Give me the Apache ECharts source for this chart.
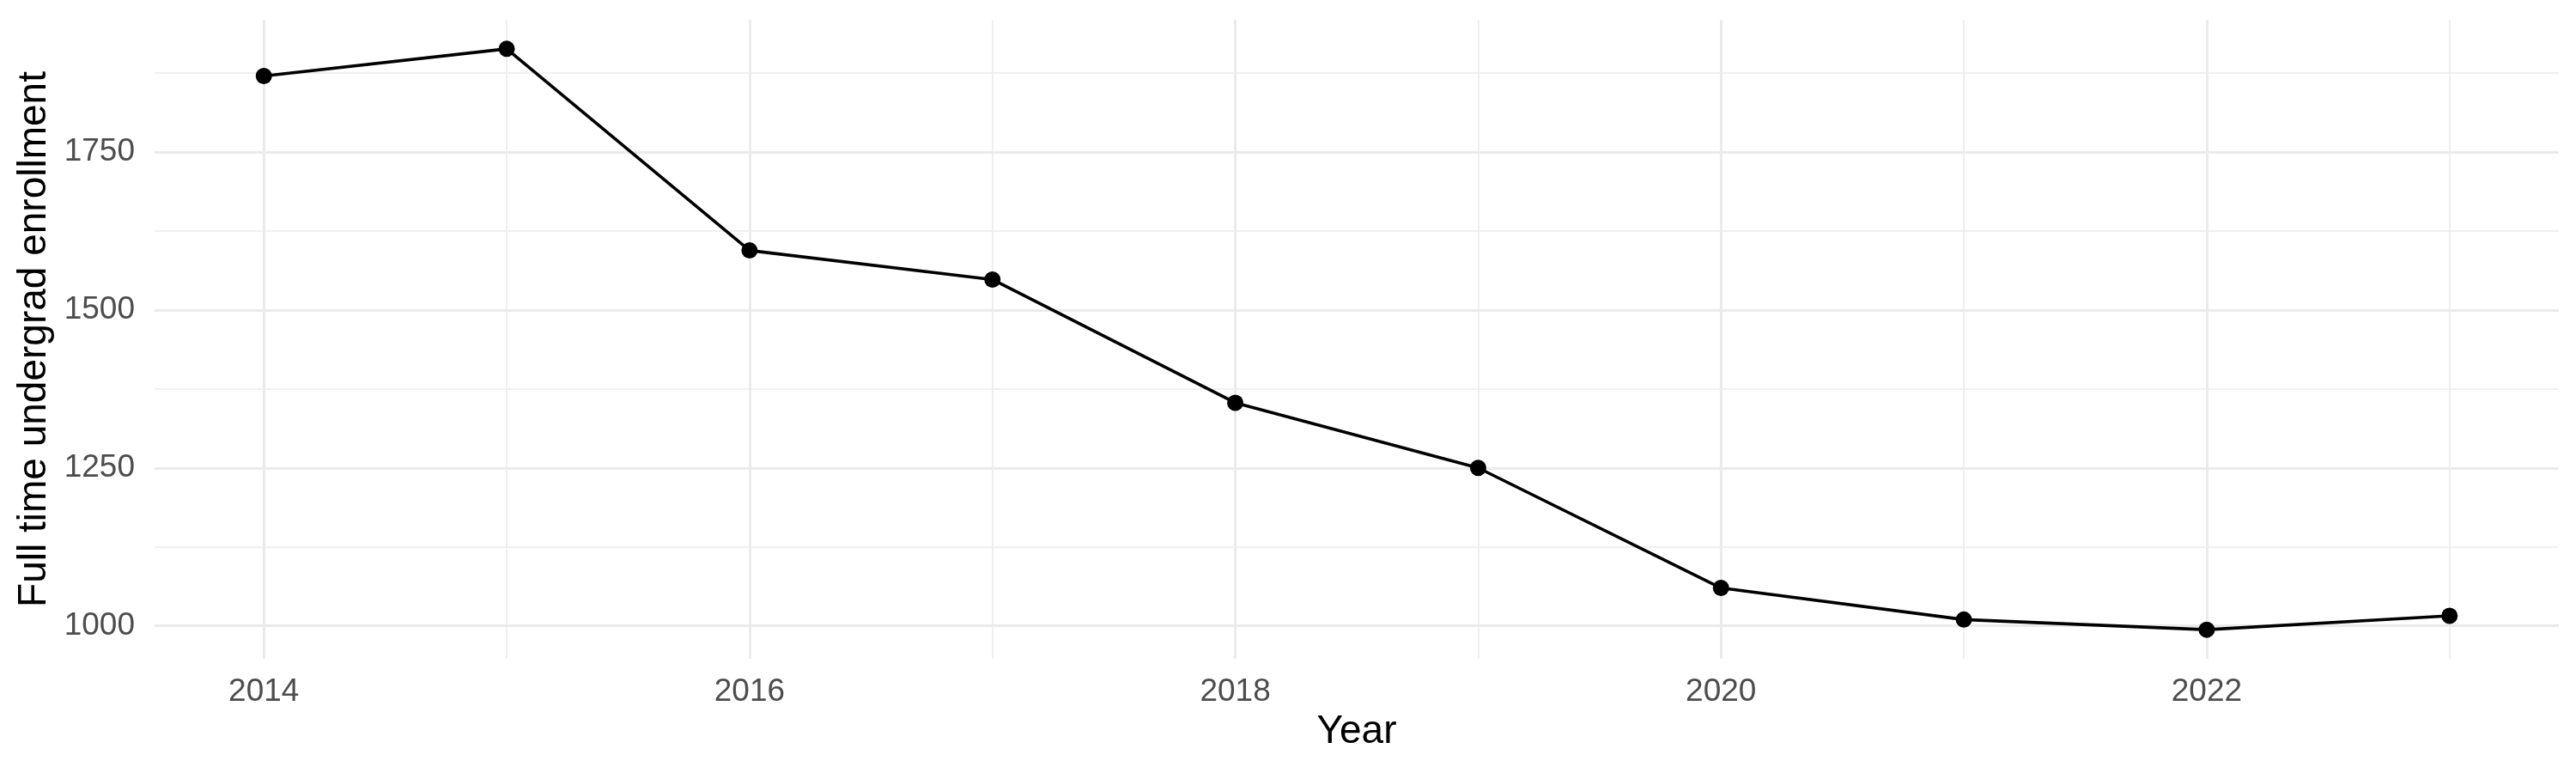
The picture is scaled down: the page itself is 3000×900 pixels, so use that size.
<!DOCTYPE html>
<html>
<head>
<meta charset="utf-8">
<script src="https://cdn.jsdelivr.net/npm/echarts@6/dist/echarts.min.js"></script>
<style>
html,body{margin:0;padding:0;background:#fff;}
#chart{width:3000px;height:900px;}
</style>
</head>
<body>
<div id="chart"></div>
<script>
const years = [2014, 2015, 2016, 2017, 2018, 2019, 2020, 2021, 2022, 2023];
const enrollment = [1870, 1913, 1594, 1548, 1353, 1250, 1060, 1010, 994, 1016];
const xMajorTicks = [2014, 2016, 2018, 2020, 2022];
const xMinorTicks = [2015, 2017, 2019, 2021, 2023];
const yMajorTicks = [1000, 1250, 1500, 1750];
const yMinorTicks = [1125, 1375, 1625, 1875];

const FONT = '"Liberation Sans", Arial, Helvetica, sans-serif';
const xMin = 2013.55, xMax = 2023.45;
const yMin = 948, yMax = 1959;

const chart = echarts.init(document.getElementById('chart'), null, {renderer: 'canvas'});

function hiddenAxisBase() {
  return {
    axisLine: {show: false},
    axisTick: {show: false}
  };
}

const option = {
  backgroundColor: '#ffffff',
  animation: false,
  grid: {left: 180, right: 20, top: 23, bottom: 133, containLabel: false},
  xAxis: [
    Object.assign(hiddenAxisBase(), {
      type: 'value', min: xMin, max: xMax,
      axisTick: {show: false, customValues: xMajorTicks},
      axisLabel: {customValues: xMajorTicks, formatter: v => String(v), color: '#4D4D4D',
        fontSize: 37, fontFamily: FONT, margin: 20},
      splitLine: {show: true, lineStyle: {color: '#EBEBEB', width: 3}},
      name: 'Year', nameLocation: 'middle', nameGap: 60,
      nameTextStyle: {color: '#000000', fontSize: 46, fontFamily: FONT}
    }),
    Object.assign(hiddenAxisBase(), {
      type: 'value', min: xMin, max: xMax,
      axisTick: {show: false, customValues: xMinorTicks},
      axisLabel: {show: false, customValues: xMinorTicks},
      splitLine: {show: true, lineStyle: {color: '#EBEBEB', width: 1.6}}
    })
  ],
  yAxis: [
    Object.assign(hiddenAxisBase(), {
      type: 'value', min: yMin, max: yMax,
      axisTick: {show: false, customValues: yMajorTicks},
      axisLabel: {customValues: yMajorTicks, formatter: v => String(v), color: '#4D4D4D',
        fontSize: 37, fontFamily: FONT, margin: 23},
      splitLine: {show: true, lineStyle: {color: '#EBEBEB', width: 3}},
      name: 'Full time undergrad enrollment', nameLocation: 'middle', nameGap: 116,
      nameTextStyle: {color: '#000000', fontSize: 46, fontFamily: FONT}
    }),
    Object.assign(hiddenAxisBase(), {
      type: 'value', min: yMin, max: yMax,
      axisTick: {show: false, customValues: yMinorTicks},
      axisLabel: {show: false, customValues: yMinorTicks},
      splitLine: {show: true, lineStyle: {color: '#EBEBEB', width: 1.6}}
    })
  ],
  series: [{
    type: 'line',
    xAxisIndex: 0, yAxisIndex: 0,
    data: years.map((y, i) => [y, enrollment[i]]),
    symbol: 'circle', symbolSize: 19, showSymbol: true,
    lineStyle: {color: '#000000', width: 3.6},
    itemStyle: {color: '#000000'},
    z: 10
  }]
};
chart.setOption(option);
</script>
</body>
</html>
